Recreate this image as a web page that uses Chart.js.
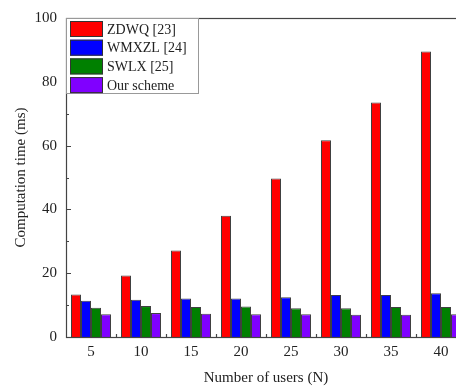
<!DOCTYPE html>
<html>
<head>
<meta charset="utf-8">
<script src="https://cdn.jsdelivr.net/npm/chart.js@4/dist/chart.umd.min.js"></script>
<style>
  html, body { margin: 0; padding: 0; background: #fff; overflow: hidden; }
  #wrap { width: 470px; height: 389px; }
</style>
</head>
<body>
<div id="wrap"><canvas id="chartCanvas" width="470" height="389"></canvas></div>
<script>
// data
const users = ["5", "10", "15", "20", "25", "30", "35", "40"]
const zdwq = [13.3, 19.3, 27.1, 38.0, 49.7, 61.7, 73.5, 89.5]
const wmxzl = [11.4, 11.7, 12.1, 12.1, 12.5, 13.2, 13.2, 13.7]
const swlx = [9.2, 9.7, 9.4, 9.6, 9.0, 9.0, 9.4, 9.4]
const ours = [7.1, 7.5, 7.3, 7.1, 7.1, 7.0, 7.0, 7.1]
const yTicks = [0, 20, 40, 60, 80, 100]

const serif = "'Liberation Serif', 'DejaVu Serif', serif"

// frame + inward ticks
const framePlugin = {
    id: "frame",
    afterDatasetsDraw(chart) {
        const ctx = chart.ctx
        const a = chart.chartArea
        const y = chart.scales.y
        ctx.save()
        ctx.strokeStyle = "#444"
        ctx.lineWidth = 1.2
        ctx.strokeRect(a.left + 0.5, a.top + 0.5, a.right - a.left, a.bottom - a.top)
        ctx.beginPath()
        for (let v = 0; v <= 100; v += 10) {
            const py = Math.round(y.getPixelForValue(v)) + 0.5
            const len = v % 20 === 0 ? 5 : 3
            ctx.moveTo(a.left, py)
            ctx.lineTo(a.left + len, py)
        }
        const step = (a.right - a.left) / users.length
        for (let i = 1; i < users.length; i++) {
            const px = Math.round(a.left + i * step) + 0.5
            ctx.moveTo(px, a.bottom)
            ctx.lineTo(px, a.bottom - 3)
        }
        ctx.stroke()
        ctx.restore()
    },
    afterDraw(chart) {
        const ctx = chart.ctx
        const a = chart.chartArea
        const ds = chart.data.datasets
        ctx.save()
        const bx = a.left + 0.5, by = a.top + 0.5, bw = 132, bh = 75
        ctx.fillStyle = "#fff"
        ctx.fillRect(bx, by, bw, bh)
        ctx.strokeStyle = "#999"
        ctx.lineWidth = 1
        ctx.strokeRect(bx, by, bw, bh)
        ctx.font = "14px " + serif
        ctx.textBaseline = "middle"
        ds.forEach((d, i) => {
            const cy = a.top + 11 + i * 18.7
            ctx.fillStyle = d.backgroundColor
            ctx.fillRect(a.left + 4, cy - 8, 33, 16)
            ctx.strokeStyle = "#333"
            ctx.strokeRect(a.left + 4.5, cy - 7.5, 32, 15)
            ctx.fillStyle = "#222"
            ctx.fillText(d.label, a.left + 41, cy + 1)
        })
        ctx.restore()
    }
}

const mk = (label, data, color) => ({
    label: label,
    data: data,
    backgroundColor: color,
    borderColor: "rgba(0,0,0,0.75)",
    borderWidth: 1,
    categoryPercentage: 0.8,
    barPercentage: 1.0
})

new Chart(document.getElementById("chartCanvas"), {
    type: "bar",
    data: {
        labels: users,
        datasets: [
            mk("ZDWQ [23]", zdwq, "#ff0000"),
            mk("WMXZL [24]", wmxzl, "#0000ff"),
            mk("SWLX [25]", swlx, "#008000"),
            mk("Our scheme", ours, "#8000ff")
        ]
    },
    options: {
        responsive: false,
        animation: false,
        layout: { padding: { left: 0, top: 13, right: 4, bottom: 0 } },
        plugins: { legend: { display: false }, tooltip: { enabled: false } },
        scales: {
            x: {
                grid: { display: false, drawTicks: false },
                border: { display: false },
                ticks: { color: "#222", font: { family: serif, size: 15 }, padding: 6 },
                title: { display: true, text: "Number of users (N)", color: "#222", font: { family: serif, size: 15 }, padding: { top: 0, bottom: 2 } },
                afterFit: (s) => { s.height = 52 }
            },
            y: {
                min: 0,
                max: 100,
                afterBuildTicks: (s) => { s.ticks = yTicks.map(v => ({ value: v })) },
                grid: { display: false, drawTicks: false },
                border: { display: false },
                ticks: { color: "#222", font: { family: serif, size: 15 }, padding: 9 },
                title: { display: true, text: "Computation time (ms)", color: "#222", font: { family: serif, size: 15 }, padding: { top: 12, bottom: 0 } },
                afterFit: (s) => { s.width = 66 }
            }
        }
    },
    plugins: [framePlugin]
})
</script>
</body>
</html>
